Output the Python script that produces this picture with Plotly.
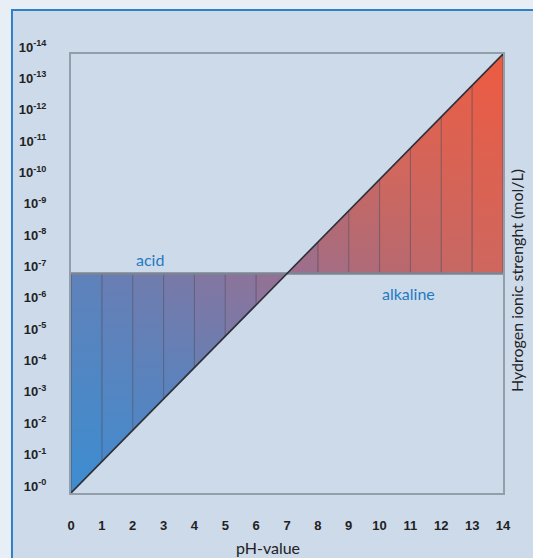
import plotly.graph_objects as go

# ---- data ----
ph_values = list(range(0, 15))                 # pH 0..14
h_exponent = list(range(0, 15))                # -log10[H+] at each pH (diagonal)
neutral_exponent = 7                           # 10^-7 mol/L (neutral line)
y_tick_vals = list(range(0, 15))
y_tick_text = ["10<sup>-%d</sup>" % k for k in y_tick_vals]
x_tick_text = [str(v) for v in ph_values]
acid_label = "acid"
alkaline_label = "alkaline"
acid_label_pos = (2.55, 7.45)
alkaline_label_pos = (10.95, 6.35)

# colour anchors along the diagonal (0 = bottom-left, 1 = top-right)
anchors = [(0.0, (0x3a, 0x8e, 0xd2)), (0.25, (0x5c, 0x82, 0xbc)), (0.5, (0x98, 0x70, 0x92)),
           (0.62, (0xb6, 0x69, 0x70)), (0.75, (0xd2, 0x67, 0x5c)), (1.0, (0xee, 0x5a, 0x40))]


def col(s):
    for (s0, c0), (s1, c1) in zip(anchors[:-1], anchors[1:]):
        if s0 <= s <= s1:
            t = (s - s0) / (s1 - s0)
            return "rgb(%d,%d,%d)" % tuple(round(a + (b - a) * t) for a, b in zip(c0, c1))
    return "rgb(%d,%d,%d)" % anchors[-1][1]


fig = go.Figure()

# filled cells between diagonal and neutral line
for i in range(len(ph_values) - 1):
    x0, x1 = ph_values[i], ph_values[i + 1]
    e0, e1 = h_exponent[i], h_exponent[i + 1]
    n = neutral_exponent
    xc = (x0 + x1) / 2
    if x1 <= n:   # acid side
        xs = [x0, x0, x1, x1]
        ys = [e0, n, n, e1]
        lo, hi = (e0 + e1) / 2, n
    else:         # alkaline side
        xs = [x0, x0, x1, x1]
        ys = [n, e0, e1, n]
        lo, hi = n, (e0 + e1) / 2
    g = dict(type="vertical", start=min(lo, hi), stop=max(lo, hi),
             colorscale=[[0, col((xc + min(lo, hi)) / 28)], [1, col((xc + max(lo, hi)) / 28)]])
    fig.add_trace(go.Scatter(x=xs, y=ys, mode="lines", fill="toself", fillgradient=g,
                             line=dict(width=0), hoverinfo="skip"))

# vertical division lines
vx, vy = [], []
for p, e in zip(ph_values, h_exponent):
    if p == neutral_exponent:
        continue
    vx += [p, p, None]
    vy += [e, neutral_exponent, None]
fig.add_trace(go.Scatter(x=vx, y=vy, mode="lines",
                         line=dict(color="rgba(60,55,75,0.55)", width=1), hoverinfo="skip"))

# neutral horizontal line
fig.add_trace(go.Scatter(x=[ph_values[0], ph_values[-1]], y=[neutral_exponent] * 2, mode="lines",
                         line=dict(color="#7d8593", width=2.5), hoverinfo="skip"))
# diagonal
fig.add_trace(go.Scatter(x=ph_values, y=h_exponent, mode="lines",
                         line=dict(color="#2e2f38", width=1.6), hoverinfo="skip"))

fig.add_annotation(x=acid_label_pos[0], y=acid_label_pos[1], text=acid_label, showarrow=False,
                   xanchor="center", yanchor="middle",
                   font=dict(family="Lato", size=16, color="#1f7bc2"))
fig.add_annotation(x=alkaline_label_pos[0], y=alkaline_label_pos[1], text=alkaline_label, showarrow=False,
                   xanchor="center", yanchor="middle",
                   font=dict(family="Lato", size=16, color="#1f7bc2"))

# axis titles
fig.add_annotation(xref="paper", yref="paper", x=0.457, y=-0.125, text="pH-value", showarrow=False,
                   xanchor="center", yanchor="middle",
                   font=dict(family="Lato", size=16, color="#222222"))
fig.add_annotation(xref="paper", yref="paper", x=1.03, y=0.485, text="Hydrogen ionic strenght (mol/L)",
                   textangle=-90, showarrow=False, xanchor="center", yanchor="middle",
                   font=dict(family="Lato", size=16, color="#222222"))

# outer panel with blue border
fig.add_shape(type="rect", xref="paper", yref="paper", x0=-0.1366, y0=-0.2, x1=1.12, y1=1.1002,
              line=dict(color="#2f80c6", width=2), fillcolor="#cddaea", layer="below")

fig.update_layout(
    width=533, height=558,
    margin=dict(l=71, r=30, t=54, b=65),
    paper_bgcolor="#e7eef6", plot_bgcolor="rgba(0,0,0,0)",
    showlegend=False,
)
fig.update_xaxes(range=[0, 14], tickvals=ph_values, ticktext=x_tick_text, showgrid=False, zeroline=False,
                 showline=True, mirror=True, linecolor="#939eab", linewidth=2,
                 ticks="", ticklabelstandoff=19,
                 tickfont=dict(family="Liberation Sans", size=13, color="#222222", weight="bold"))
fig.update_yaxes(range=[0, 14], tickvals=y_tick_vals, ticktext=y_tick_text, showgrid=False, zeroline=False,
                 showline=True, mirror=True, linecolor="#939eab", linewidth=2,
                 ticks="", ticklabelstandoff=20, ticklabelshift=-7,
                 tickfont=dict(family="Liberation Sans", size=13, color="#222222", weight="bold"))

fig.write_html("out.html", config={"displayModeBar": False},
               post_script="document.body.style.margin='0';document.body.style.background='#e7eef6';"
                           "document.body.style.overflow='hidden';")
